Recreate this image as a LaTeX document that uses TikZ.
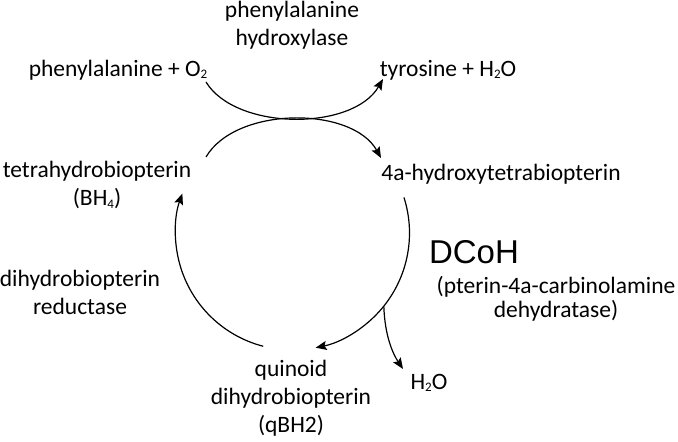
\documentclass[tikz,border=0pt]{standalone}
\usepackage{fontspec}
\setmainfont{Carlito}
\newfontfamily\arialf{Liberation Sans}
\newcommand\subdig[1]{\raisebox{-2.5pt}{\fontsize{13}{13}\selectfont #1}}
\usetikzlibrary{arrows.meta,calc}
\begin{document}
\begin{tikzpicture}[x=1pt,y=1pt,
  lbl/.style={inner sep=0pt,align=center,font=\fontsize{23.5}{28}\selectfont},
  conn/.style={line width=1.2pt,-{Stealth[length=11pt,width=9pt,inset=2pt]}}]
\useasboundingbox (0,0) rectangle (678,442);
% text nodes
\node[lbl] (enz) at (292,417) {phenylalanine\\hydroxylase};
\node[lbl] (phe) at (118,372) {phenylalanine + O\subdig{2}};
\node[lbl] (tyr) at (448,372) {tyrosine + H\subdig{2}O};
\node[lbl] (bh4) at (97,257) {tetrahydrobiopterin\\(BH\subdig{4})};
\node[lbl] (hyd) at (501,268) {4a-hydroxytetrabiopterin};
\node[inner sep=0pt,font=\arialf\fontsize{33}{38}\selectfont] (dcoh) at (474,190) {DCoH};
\node[lbl,font=\fontsize{23.5}{24}\selectfont] (pcd) at (556,143) {(pterin-4a-carbinolamine\\dehydratase)};
\node[lbl] (dhpr) at (80,150) {dihydrobiopterin\\reductase};
\node[lbl] (q) at (291,44) {quinoid\\dihydrobiopterin\\(qBH2)};
\node[lbl] (w) at (429,59) {H\subdig{2}O};
% coordinates
\coordinate (c) at (292.5,209);
\coordinate (u1) at (206,360);
\coordinate (u2) at (383,363);
\coordinate (l1) at (206,285);
\coordinate (l2) at (381,284);
\coordinate (wt) at (403,73);
% upper crossing arcs
\draw[conn] (u1) .. controls (236,311) and (353,311) .. (u2);
\draw[conn] (l1) .. controls (236,336) and (352,336) .. (l2);
% cycle
\draw[conn] ($(c)+(17.7:117)$) arc[start angle=17.7,end angle=-78.6,radius=117];
\draw[conn] ($(c)+(255.5:117)$) arc[start angle=255.5,end angle=160.3,radius=117];
% water branch
\coordinate (b0) at ($(c)+(-38.7:117)$);
\draw[conn] (b0) .. controls ($(b0)+(1,-30)$) and ($(wt)+(-10,15)$) .. (wt);
\end{tikzpicture}
\end{document}
